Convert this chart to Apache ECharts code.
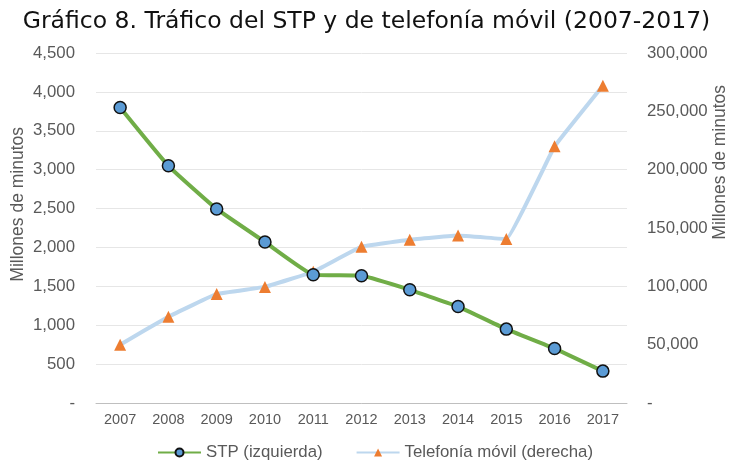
<!DOCTYPE html>
<html><head><meta charset="utf-8">
<script src="https://cdn.jsdelivr.net/npm/echarts@6/dist/echarts.min.js"></script>
<style>html,body{margin:0;padding:0;background:#fff}#c{width:733px;height:466px}</style>
</head><body><div id="c"></div>
<script>
const years = ['2007','2008','2009','2010','2011','2012','2013','2014','2015','2016','2017'];
const stp = [3800, 3050, 2495, 2070, 1650, 1635, 1455, 1240, 950, 700, 410];
const movil = [50000, 74000, 93500, 99500, 112500, 134000, 140000, 143500, 140500, 220000, 272000];
const axisTitle = 'Millones de minutos';

const fmt = v => v === 0 ? '-' : v.toLocaleString('en-US');
const chart = echarts.init(document.getElementById('c'));
chart.setOption({
  animation: false,
  backgroundColor: '#fff',
  title: {
    text: 'Gráfico 8. Tráfico del STP y de telefonía móvil (2007-2017)',
    left: 'center', top: 5,
    textStyle: { fontFamily: 'DejaVu Sans', fontWeight: 'normal', fontSize: 23.5, color: '#111' }
  },
  legend: {
    left: 157, top: 444, itemWidth: 43, itemHeight: 10, itemGap: 33, padding: 0,
    textStyle: { fontFamily: 'Liberation Sans', fontSize: 16.8, color: '#595959' },
    data: ['STP (izquierda)', 'Telefonía móvil (derecha)']
  },
  graphic: [{
    type: 'text', left: 9, top: 127, rotation: Math.PI / 2,
    style: { text: axisTitle, fill: '#595959', font: '17.5px "Liberation Sans"' }
  }, {
    type: 'text', left: 711, top: 85, rotation: Math.PI / 2,
    style: { text: axisTitle, fill: '#595959', font: '17.5px "Liberation Sans"' }
  }],
  grid: { left: 96, right: 106, top: 53, bottom: 63 },
  xAxis: {
    type: 'category', data: years, boundaryGap: true,
    axisLine: { lineStyle: { color: '#bfbfbf' } },
    axisTick: { show: false },
    axisLabel: { color: '#595959', fontSize: 14.5, fontFamily: 'Liberation Sans', margin: 9 }
  },
  yAxis: [{
    type: 'value', min: 0, max: 4500, interval: 500,
    axisLine: { show: false }, axisTick: { show: false },
    axisLabel: { color: '#595959', fontSize: 16.8, fontFamily: 'Liberation Sans', margin: 21, formatter: fmt },
    splitLine: { lineStyle: { color: '#e6e6e6' } }
  }, {
    type: 'value', min: 0, max: 300000, interval: 50000, position: 'right',
    axisLine: { show: false }, axisTick: { show: false },
    axisLabel: { color: '#595959', fontSize: 16.8, fontFamily: 'Liberation Sans', margin: 20, formatter: fmt },
    splitLine: { show: false }
  }],
  series: [{
    name: 'Telefonía móvil (derecha)', type: 'line', yAxisIndex: 1, data: movil, smooth: 0.06,
    lineStyle: { color: '#bdd7ee', width: 4 },
    itemStyle: { color: '#ed7d31' },
    symbol: 'triangle', symbolSize: 12, z: 2
  }, {
    name: 'STP (izquierda)', type: 'line', yAxisIndex: 0, data: stp, smooth: 0.12,
    lineStyle: { color: '#70ad47', width: 4 },
    itemStyle: { color: '#5b9bd5', borderColor: '#111', borderWidth: 1.5 },
    symbol: 'circle', symbolSize: 12, z: 3
  }]
});
</script></body></html>
